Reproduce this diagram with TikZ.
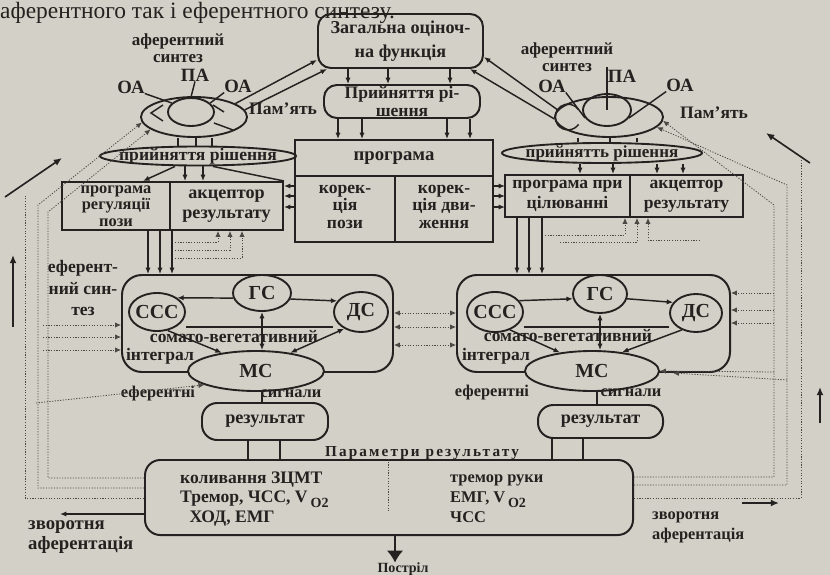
\documentclass[tikz,border=0pt]{standalone}
\usepackage{fontspec}
\setmainfont{Liberation Serif}
\usetikzlibrary{arrows.meta,shapes.geometric,fit,calc}
\definecolor{paper}{RGB}{211,208,199}
\definecolor{ink}{RGB}{36,34,32}
\definecolor{dotink}{RGB}{75,72,68}
\newcommand\pxd[1]{#1*0.8536pt}
\newcommand\vo{V\,\raisebox{-0.28em}{\fontsize{12}{12}\selectfont O2}}
\begin{document}
\begin{tikzpicture}[x=0.8536pt,y=-0.8536pt,
  every node/.style={text=ink, inner sep=0pt},
  lbl/.style={align=center, font=\bfseries\fontsize{14}{15}\selectfont},
  box/.style={draw=ink, line width=1.7pt, inner sep=0pt},
  rbox/.style={box, rounded corners=11pt},
  ell/.style={draw=ink, ellipse, line width=1.6pt, inner sep=0pt},
  con/.style={draw=ink, line width=1.25pt},
  tip/.style={con, -{Latex[length=5.5pt,width=4.5pt]}},
  dl/.style={draw=dotink, line width=0.7pt, dash pattern=on 1pt off 1.3pt},
  dtip/.style={dl, -{Latex[length=5pt,width=4.5pt]}},
  dtwo/.style={dl, {Latex[length=5pt,width=4.5pt]}-{Latex[length=5pt,width=4.5pt]}},
  big/.style={font=\bfseries\fontsize{16}{16}\selectfont},
]
\fill[paper] (0,0) rectangle (830,575);
\useasboundingbox (0,0) rectangle (830,575);
\clip (0,0) rectangle (830,575);

% top printed line
\node[anchor=base west, font=\fontsize{20}{20}\selectfont] (toptxt) at (0,18) {аферентного так і еферентного синтезу.};

% ---------- centre column ----------
\node[rbox, fit={(318,14) (483,68)}] (zag) {};
\node[lbl, font=\bfseries\fontsize{15.5}{20}\selectfont] (zagt) at (zag.center) {Загальна оціноч-\\на функція};
\node[rbox, fit={(324,85) (480,118)}] (prr) {};
\node[lbl, font=\bfseries\fontsize{15}{15}\selectfont] (prrt) at (prr.center) {Прийняття рі-\\шення};
\foreach \x in {348,388,450} \draw[tip] (\x,0 |- zag.south) -- (\x,0 |- prr.north);

\node[box, fit={(295,140) (493,176)}] (progt) {};
\node[lbl, font=\bfseries\fontsize{16}{16}\selectfont] (progtt) at (progt.center) {програма};
\node[box, fit={(295,176) (395,242)}] (korp) {};
\node[lbl, font=\bfseries\fontsize{15}{15}\selectfont] (korpt) at ([yshift=2pt]korp.center) {корек-\\ція\\пози};
\node[box, fit={(395,176) (493,242)}] (korr) {};
\node[lbl, font=\bfseries\fontsize{15}{15}\selectfont] (korrt) at ([yshift=2pt]korr.center) {корек-\\ція дви-\\ження};
\foreach \x in {338,362,447,470} \draw[tip] (\x,0 |- prr.south) -- (\x,0 |- progt.north);

% ---------- left afferent synthesis ----------
\node[lbl, font=\bfseries\fontsize{14.5}{14.5}\selectfont] (lsyn) at (178,48) {аферентний\\синтез};
\node[lbl, big] (lpa) at (195,75) {ПА};
\node[lbl, big] (loal) at (131,87) {ОА};
\node[lbl, big] (loar) at (238,86) {ОА};
\node[ell, minimum width=\pxd{106}, minimum height=\pxd{40}] (lell) at (194,117) {};
\node[ell, minimum width=\pxd{46}, minimum height=\pxd{28}] (lin) at (191,112) {};
\node[lbl, font=\bfseries\fontsize{15}{15}\selectfont, anchor=west] (lpam) at (249,109) {Пам'ять};
\draw[con] (lpa.south) -- (lin.north);
\draw[con] (loal.south east) -- (lin.155);
\draw[con] (loar.south west) -- (lin.25);
\draw[con] (163,105) -- (151,113) -- (163,121);
\draw[con] (213,105) -- (224,112);
\draw[con] (214,123) -- (233,130);
\draw[tip] (lell.18) -- (zag.west |- 0,60);
\draw[tip] (lell.8) -- (327,0 |- zag.south);

\node[ell, minimum width=\pxd{196}, minimum height=\pxd{19}] (lpr) at (198,156) {};
\node[lbl, font=\bfseries\fontsize{15}{15}\selectfont] (lprt) at (lpr.center) {прийняття рішення};
\foreach \x in {178,196,212} \draw[con] (\x,0 |- lell.south) -- (\x,0 |- lpr.north);

\node[box, fit={(62,182) (170,230)}] (lprog) {};
\node[lbl, font=\bfseries\fontsize{14}{14}\selectfont] (lprogt) at (lprog.center) {програма\\регуляції\\пози};
\node[box, fit={(170,182) (283,230)}] (lakc) {};
\node[lbl, font=\bfseries\fontsize{15.5}{17}\selectfont] (lakct) at (lakc.center) {акцептор\\результату};
\foreach \x in {185,203} \draw[tip] (\x,0 |- lpr.south) -- (\x,0 |- lakc.north);
\draw[tip] (175,0 |- lpr.south) -- (143,0 |- lprog.north);
\draw[con] (213,0 |- lpr.south) -- (lakc.north east);
\foreach \y in {186,196,207} {
  \draw[tip] (korp.west |- 0,\y) -- (lakc.east |- 0,\y);
  \draw[tip] (korr.east |- 0,\y) -- (505,\y);
}

% ---------- left integral ----------
\node[box, rounded corners=17pt, fit={(122,275) (393,372)}] (lint) {};
\foreach \x in {148,160,172} \draw[tip] (\x,0 |- lprog.south) -- (\x,0 |- lint.north);
\draw[dtip] (175,242) -| (lakc.south -| 218,0);
\draw[dtip] (175,250) -| (lakc.south -| 230,0);
\draw[dtip] (175,258) -| (lakc.south -| 242,0);

\node[ell, minimum width=\pxd{56}, minimum height=\pxd{38}] (lccc) at (157,312) {};
\node[lbl, font=\bfseries\fontsize{17}{17}\selectfont] (lccct) at (lccc.center) {ССС};
\node[ell, minimum width=\pxd{58}, minimum height=\pxd{36}] (lgs) at (262,293) {};
\node[lbl, font=\bfseries\fontsize{17}{17}\selectfont] (lgst) at (lgs.center) {ГС};
\node[ell, minimum width=\pxd{54}, minimum height=\pxd{40}] (lds) at (361,312) {};
\node[lbl, font=\bfseries\fontsize{17}{17}\selectfont] (ldst) at (lds.center) {ДС};
\node[ell, fill=paper, minimum width=\pxd{136}, minimum height=\pxd{40}] (lms) at (256,371) {};
\node[lbl, font=\bfseries\fontsize{17}{17}\selectfont] (lmst) at (lms.center) {МС};
\draw[con] (lccc.east |- 0,327) -- (lds.west |- 0,327);
\node[lbl, font=\bfseries\fontsize{15}{16}\selectfont] (lsom) at (234,337) {сомато-вегетативний};
\node[lbl, font=\bfseries\fontsize{15}{16}\selectfont] (lintg) at (160,356) {інтеграл};
\draw[tip] (lgs.190) -- (lccc.35);
\draw[tip] (lgs.-12) -- (lds.155);
\draw[tip] (lgs.south |- 0,327) -- (lgs.south);
\draw[tip] (lgs.south |- 0,327) -- (lgs.south |- lms.north);
\draw[tip] (lccc.-60) -- (lms.152);
\draw[con, {Latex[length=5.5pt,width=4.5pt]}-{Latex[length=5.5pt,width=4.5pt]}] (lms.28) -- (lds.225);

\node[lbl, font=\bfseries\fontsize{15}{18}\selectfont] (leff) at (83,288) {еферент-\\ний син-\\тез};

% ---------- right afferent synthesis ----------
\node[lbl, font=\bfseries\fontsize{14.5}{14.5}\selectfont] (rsyn) at (567,57) {аферентний\\синтез};
\node[lbl, big] (rpa) at (622,76) {ПА};
\node[lbl, big] (roal) at (552,86) {ОА};
\node[lbl, big] (roar) at (680,85) {ОА};
\node[ell, minimum width=\pxd{108}, minimum height=\pxd{40}] (rell) at (609,117) {};
\node[ell, minimum width=\pxd{48}, minimum height=\pxd{32}] (rin) at (607,110) {};
\draw[con] (568,117) ++(35:11pt) arc[start angle=35, end angle=325, radius=11pt];
\node[lbl, font=\bfseries\fontsize{15}{15}\selectfont, anchor=west] (rpam) at (680,113) {Пам'ять};
\draw[con] (607,67) -- (rin.center);
\draw[con] (roal.south east) -- (rin.200);
\draw[con] (roar.south west) -- (rin.-20);
\draw[tip] (rell.172) -- (zag.east |- 0,57);
\draw[tip] (rell.182) -- (470,0 |- zag.south);

\node[ell, minimum width=\pxd{200}, minimum height=\pxd{20}] (rpr) at (602,153) {};
\node[lbl, font=\bfseries\fontsize{14.5}{15}\selectfont] (rprt) at (rpr.center) {прийнятть рішення};
\foreach \x in {578,610,637} \draw[con] (\x,0 |- rell.south) -- (\x,0 |- rpr.north);

\node[box, fit={(505,175) (630,217)}] (rprog) {};
\node[lbl, font=\bfseries\fontsize{15}{17}\selectfont] (rprogt) at (rprog.center) {програма при\\цілюванні};
\node[box, fit={(630,175) (743,217)}] (rakc) {};
\node[lbl, font=\bfseries\fontsize{15}{17}\selectfont] (rakct) at (rakc.center) {акцептор\\результату};
\foreach \x in {580,613,657,683} \draw[tip] (\x,0 |- rpr.south) -- (\x,0 |- rprog.north);

% ---------- right integral ----------
\node[box, rounded corners=17pt, fit={(457,275) (730,372)}] (rint) {};
\foreach \x in {517,529,542} \draw[tip] (\x,0 |- rprog.south) -- (\x,0 |- rint.north);
\draw[dtip] (545,235) -| (rakc.south -| 625,0);
\draw[dtip] (560,242) -| (rakc.south -| 637,0);
\draw[dtip] (700,240) -| (rakc.south -| 648,0);

\node[ell, minimum width=\pxd{56}, minimum height=\pxd{40}] (rccc) at (495,312) {};
\node[lbl, font=\bfseries\fontsize{17}{17}\selectfont] (rccct) at (rccc.center) {ССС};
\node[ell, minimum width=\pxd{54}, minimum height=\pxd{38}] (rgs) at (600,294) {};
\node[lbl, font=\bfseries\fontsize{17}{17}\selectfont] (rgst) at (rgs.center) {ГС};
\node[ell, minimum width=\pxd{52}, minimum height=\pxd{38}] (rds) at (696,313) {};
\node[lbl, font=\bfseries\fontsize{17}{17}\selectfont] (rdst) at (rds.center) {ДС};
\node[ell, fill=paper, minimum width=\pxd{134}, minimum height=\pxd{40}] (rms) at (592,371) {};
\node[lbl, font=\bfseries\fontsize{17}{17}\selectfont] (rmst) at (rms.center) {МС};
\draw[con] (rccc.east |- 0,327) -- (rds.west |- 0,327);
\node[lbl, font=\bfseries\fontsize{15}{16}\selectfont] (rsom) at (568,336) {сомато-вегетативний};
\node[lbl, font=\bfseries\fontsize{15}{16}\selectfont] (rintg) at (496,356) {інтеграл};
\draw[tip] (rccc.25) -- (rgs.190);
\draw[tip] (rgs.-10) -- (rds.155);
\draw[tip] (rgs.south |- 0,327) -- (rgs.south);
\draw[tip] (rgs.south |- 0,327) -- (rgs.south |- rms.north);
\draw[tip] (rccc.-50) -- (rms.150);
\draw[tip] (rds.-130) -- (rms.32);

% dotted between the two integrals
\foreach \y in {313,327,345} \draw[dtwo] (lint.east |- 0,\y) -- (rint.west |- 0,\y);

% ---------- bottom ----------
\node[rbox, rounded corners=13pt, fit={(202,403) (328,440)}] (lres) {};
\node[lbl, font=\bfseries\fontsize{15.5}{16}\selectfont] (lrest) at (lres.center) {результат};
\node[rbox, rounded corners=13pt, fit={(538,405) (663,438)}] (rres) {};
\node[lbl, font=\bfseries\fontsize{15.5}{16}\selectfont] (rrest) at (rres.center) {результат};
\draw[con] (262,0 |- lms.south) -- (262,0 |- lres.north);
\draw[con] (597,0 |- rms.south) -- (597,0 |- rres.north);
\node[lbl] (leffs) at (158,394) {еферентні};
\node[lbl] (lsig) at (291,394) {сигнали};
\node[lbl] (reffs) at (492,393) {еферентні};
\node[lbl] (rsig) at (631,393) {сигнали};

\node[rbox, rounded corners=13pt, fit={(145,460) (633,535)}] (bbox) {};
\foreach \x in {248,280} \draw[con] (\x,0 |- lres.south) -- (\x,0 |- bbox.north);
\foreach \x in {552,583} \draw[con] (\x,0 |- rres.south) -- (\x,0 |- bbox.north);
\node[lbl, anchor=base, font=\bfseries\fontsize{13}{13}\selectfont\addfontfeature{LetterSpace=14}] (param) at (422,456) {Параметри результату};
\draw[dl] (388,0 |- bbox.north) -- (388,512);
\node[lbl, anchor=west, align=left, font=\bfseries\fontsize{15}{17}\selectfont] (lpar) at (180,499) {коливання ЗЦМТ\\Тремор, ЧСС, \vo\\\hspace*{8pt}ХОД, ЕМГ};
\node[lbl, anchor=west, align=left, font=\bfseries\fontsize{14}{17}\selectfont] (rpar) at (450,499) {тремор руки\\ЕМГ, \vo\\ЧСС};
\node[lbl, font=\bfseries\fontsize{12}{12}\selectfont] (post) at (403,569) {Постріл};
\draw[con, line width=1.4pt, -{Latex[length=10pt,width=14pt]}] (395,0 |- bbox.south) -- (395,0 |- post.north);

\node[lbl, align=left, anchor=west, font=\bfseries\fontsize{16}{17}\selectfont] (lzv) at (28,537) {зворотня\\аферентація};
\draw[tip] (bbox.west |- 0,514) -- (60,514);
\node[lbl, align=left, anchor=west, font=\bfseries\fontsize{14}{17}\selectfont] (rzv) at (652,527) {зворотня\\аферентація};
\coordinate (rzvarr) at (779,503);
\draw[con, line width=1.6pt, -{Latex[length=7pt,width=6pt]}] (742,503) -- (rzvarr);

% ---------- dotted feedback networks ----------
\draw[dtip] (bbox.west |- 0,488) -| (38,205) -- (lell.186);
\draw[dtip] (bbox.west |- 0,478) -| (48,212) -- (lell.196);
\draw[dl] (bbox.west |- 0,498) -| (25,195);
\foreach \y in {325,337,350} \draw[dtip] (43,\y) -- (lint.west |- 0,\y);
\draw[dtip] (36,403) -- (lms.195);

\draw[dtip] (bbox.east |- 0,477) -| (774,205) -- (rell.-4);
\draw[dtip] (bbox.east |- 0,485) -| (787,185) -- (rell.-12);
\draw[dl] (bbox.east |- 0,498) -| (801,160);
\foreach \y in {293,310,323} \draw[dtip] (774,\y) -- (rint.east |- 0,\y);
\draw[dtip] (774,372) -- (rms.east);
\draw[dtip] (787,380) -- (673,0 |- rint.south);

% ---------- solid side arrows ----------
\coordinate (la0) at (5,197);
\coordinate (la1) at (62,158);
\draw[con, line width=1.4pt, -{Latex[length=7pt,width=6pt]}] (la0) -- (la1);
\coordinate (ra0) at (810,163);
\coordinate (ra1) at (766,133);
\draw[con, line width=1.4pt, -{Latex[length=7pt,width=6pt]}] (ra0) -- (ra1);
\coordinate (lu0) at (13,327);
\coordinate (lu1) at (13,255);
\draw[con, line width=2.2pt, -{Latex[length=7pt,width=6pt]}] (lu0) -- (lu1);
\coordinate (ru0) at (820,423);
\coordinate (ru1) at (820,387);
\draw[con, line width=2.2pt, -{Latex[length=7pt,width=6pt]}] (ru0) -- (ru1);
\end{tikzpicture}
\end{document}
